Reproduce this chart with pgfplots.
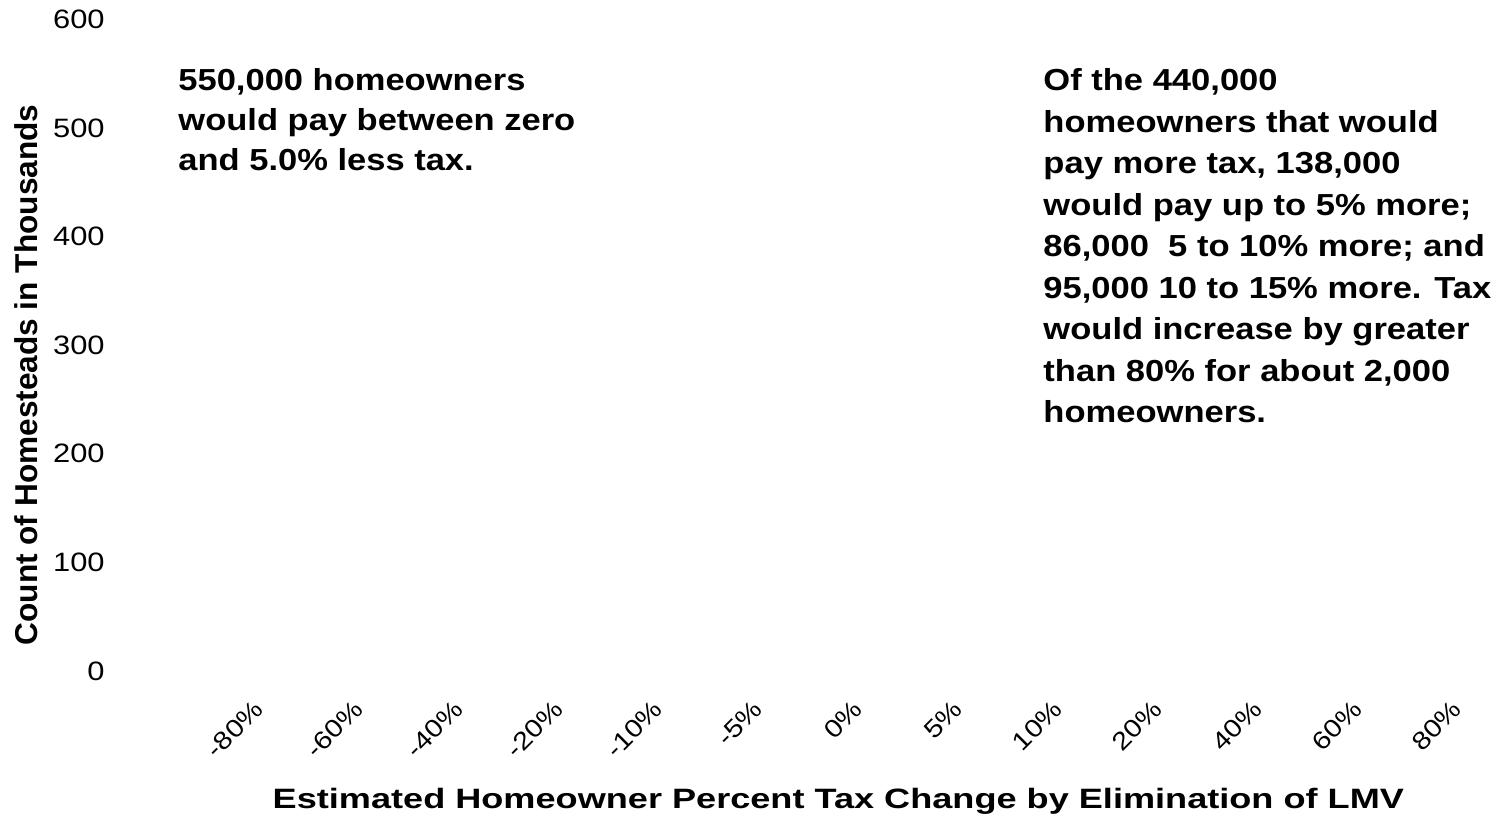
\documentclass[border=0pt]{standalone}
\usepackage{pgfplots}
\pgfplotsset{compat=1.18}
\usepackage{fontspec}
\usepackage{graphicx}
\setmainfont{Liberation Sans}
\newfontfamily\wide{Liberation Sans}[FakeStretch=1.16]

\begin{document}
\begin{tikzpicture}
\begin{axis}[
  at={(137.5pt,72.5pt)}, anchor=south west,
  scale only axis, width=599.2pt, height=325.75pt,
  xmin=0, xmax=12, ymin=0, ymax=600,
  clip=false,
  axis line style={draw=none},
  tick style={draw=none}, major tick length=0pt,
  xtick={0,1,2,3,4,5,6,7,8,9,10,11,12},
  xticklabels={-80\%,-60\%,-40\%,-20\%,-10\%,-5\%,0\%,5\%,10\%,20\%,40\%,60\%,80\%},
  ytick={0,100,200,300,400,500,600},
  yticklabels={0,100,200,300,400,500,600},
  xticklabel style={font=\wide\fontsize{12.5}{13}\selectfont, xshift=-5pt, yshift=-20pt, rotate=45, anchor=base east, inner sep=0pt},
  yticklabel style={font=\wide\fontsize{13.3}{14}\selectfont, anchor=east, inner sep=0pt, xshift=-85pt},
  xlabel={\scalebox{1.29}[1]{Estimated Homeowner Percent Tax Change by Elimination of LMV}},
  xlabel style={font=\bfseries\fontsize{14}{16}\selectfont, at={(axis description cs:0.4701,-0.2103)}, anchor=base, inner sep=0pt},
  ylabel={Count of Homesteads in Thousands},
  ylabel style={font=\bfseries\fontsize{15.8}{17}\selectfont, at={(axis description cs:-0.2078,0.4543)}, anchor=center, inner sep=0pt},
]
\addplot[draw=none, mark=none] coordinates {(0,0) (12,0)};
\node[anchor=base west, inner sep=0pt, font=\bfseries\fontsize{15.2}{20}\selectfont] at (axis description cs:-0.0809,0.8907)
  {\scalebox{1.135}[1]{\vtop{\baselineskip=20pt
    \hbox{550,000 homeowners}
    \hbox{would pay between zero}
    \hbox{and 5.0\% less tax.}}}};
\node[anchor=base west, inner sep=0pt, font=\bfseries\fontsize{15.2}{20.75}\selectfont] at (axis description cs:0.6409,0.8907)
  {\scalebox{1.136}[1]{\vtop{\baselineskip=20.75pt
    \hbox{Of the 440,000}
    \hbox{homeowners that would}
    \hbox{pay more tax, 138,000}
    \hbox{would pay up to 5\% more;}
    \hbox{86,000\ \ 5 to 10\% more; and}
    \hbox{95,000 10 to 15\% more. Tax}
    \hbox{would increase by greater}
    \hbox{than 80\% for about 2,000}
    \hbox{homeowners.}}}};
\end{axis}
\pgfresetboundingbox
\path[use as bounding box] (0,0) rectangle (749.5pt,408pt);
\end{tikzpicture}
\end{document}
